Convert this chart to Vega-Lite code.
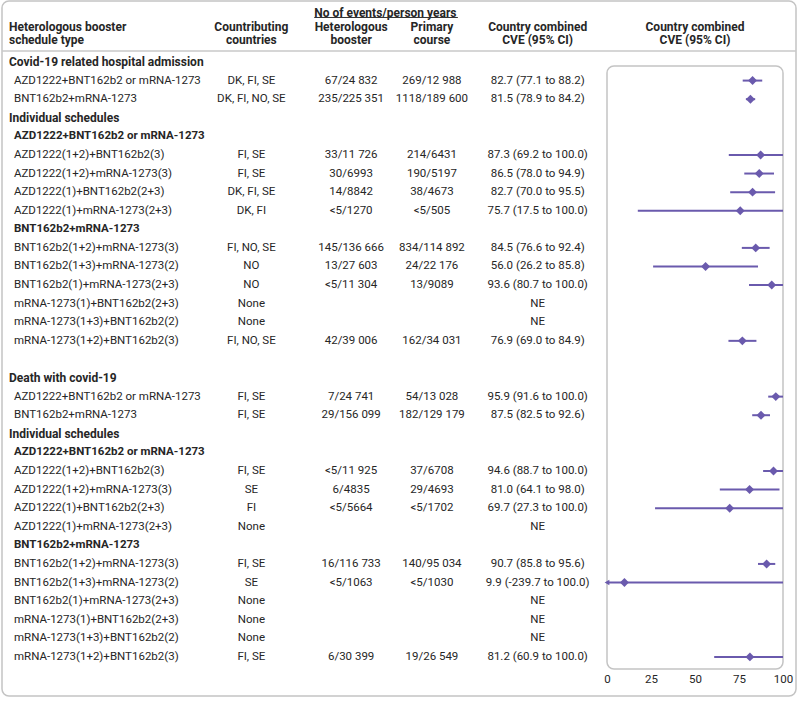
{
  "$schema": "https://vega.github.io/schema/vega-lite/v6.json",
  "width": 800,
  "height": 701,
  "autosize": {"type": "fit", "contains": "padding"},
  "padding": {"left": 1, "top": 1, "right": 3, "bottom": 5},
  "config": {
    "view": {"stroke": "#c4c4c4", "strokeWidth": 1.5, "cornerRadius": 7},
    "font": "Roboto",
    "text": {"font": "Roboto", "fontSize": 11.5, "color": "#262626", "baseline": "middle"}
  },
  "datasets": {
    "rows": [
      {"row": 0, "type": "section", "label": "Covid-19 related hospital admission", "countries": "", "booster": "", "primary": "", "cve": "", "est": null, "lo": null, "hi": null},
      {"row": 1, "type": "item", "label": "AZD1222+BNT162b2 or mRNA-1273", "countries": "DK, FI, SE", "booster": "67/24 832", "primary": "269/12 988", "cve": "82.7 (77.1 to 88.2)", "est": 82.7, "lo": 77.1, "hi": 88.2},
      {"row": 2, "type": "item", "label": "BNT162b2+mRNA-1273", "countries": "DK, FI, NO, SE", "booster": "235/225 351", "primary": "1118/189 600", "cve": "81.5 (78.9 to 84.2)", "est": 81.5, "lo": 78.9, "hi": 84.2},
      {"row": 3, "type": "sub", "label": "Individual schedules", "countries": "", "booster": "", "primary": "", "cve": "", "est": null, "lo": null, "hi": null},
      {"row": 4, "type": "group", "label": "AZD1222+BNT162b2 or mRNA-1273", "countries": "", "booster": "", "primary": "", "cve": "", "est": null, "lo": null, "hi": null},
      {"row": 5, "type": "item", "label": "AZD1222(1+2)+BNT162b2(3)", "countries": "FI, SE", "booster": "33/11 726", "primary": "214/6431", "cve": "87.3 (69.2 to 100.0)", "est": 87.3, "lo": 69.2, "hi": 100.0},
      {"row": 6, "type": "item", "label": "AZD1222(1+2)+mRNA-1273(3)", "countries": "FI, SE", "booster": "30/6993", "primary": "190/5197", "cve": "86.5 (78.0 to 94.9)", "est": 86.5, "lo": 78.0, "hi": 94.9},
      {"row": 7, "type": "item", "label": "AZD1222(1)+BNT162b2(2+3)", "countries": "DK, FI, SE", "booster": "14/8842", "primary": "38/4673", "cve": "82.7 (70.0 to 95.5)", "est": 82.7, "lo": 70.0, "hi": 95.5},
      {"row": 8, "type": "item", "label": "AZD1222(1)+mRNA-1273(2+3)", "countries": "DK, FI", "booster": "<5/1270", "primary": "<5/505", "cve": "75.7 (17.5 to 100.0)", "est": 75.7, "lo": 17.5, "hi": 100.0},
      {"row": 9, "type": "group", "label": "BNT162b2+mRNA-1273", "countries": "", "booster": "", "primary": "", "cve": "", "est": null, "lo": null, "hi": null},
      {"row": 10, "type": "item", "label": "BNT162b2(1+2)+mRNA-1273(3)", "countries": "FI, NO, SE", "booster": "145/136 666", "primary": "834/114 892", "cve": "84.5 (76.6 to 92.4)", "est": 84.5, "lo": 76.6, "hi": 92.4},
      {"row": 11, "type": "item", "label": "BNT162b2(1+3)+mRNA-1273(2)", "countries": "NO", "booster": "13/27 603", "primary": "24/22 176", "cve": "56.0 (26.2 to 85.8)", "est": 56.0, "lo": 26.2, "hi": 85.8},
      {"row": 12, "type": "item", "label": "BNT162b2(1)+mRNA-1273(2+3)", "countries": "NO", "booster": "<5/11 304", "primary": "13/9089", "cve": "93.6 (80.7 to 100.0)", "est": 93.6, "lo": 80.7, "hi": 100.0},
      {"row": 13, "type": "item", "label": "mRNA-1273(1)+BNT162b2(2+3)", "countries": "None", "booster": "", "primary": "", "cve": "NE", "est": null, "lo": null, "hi": null},
      {"row": 14, "type": "item", "label": "mRNA-1273(1+3)+BNT162b2(2)", "countries": "None", "booster": "", "primary": "", "cve": "NE", "est": null, "lo": null, "hi": null},
      {"row": 15, "type": "item", "label": "mRNA-1273(1+2)+BNT162b2(3)", "countries": "FI, NO, SE", "booster": "42/39 006", "primary": "162/34 031", "cve": "76.9 (69.0 to 84.9)", "est": 76.9, "lo": 69.0, "hi": 84.9},
      {"row": 17, "type": "section", "label": "Death with covid-19", "countries": "", "booster": "", "primary": "", "cve": "", "est": null, "lo": null, "hi": null},
      {"row": 18, "type": "item", "label": "AZD1222+BNT162b2 or mRNA-1273", "countries": "FI, SE", "booster": "7/24 741", "primary": "54/13 028", "cve": "95.9 (91.6 to 100.0)", "est": 95.9, "lo": 91.6, "hi": 100.0},
      {"row": 19, "type": "item", "label": "BNT162b2+mRNA-1273", "countries": "FI, SE", "booster": "29/156 099", "primary": "182/129 179", "cve": "87.5 (82.5 to 92.6)", "est": 87.5, "lo": 82.5, "hi": 92.6},
      {"row": 20, "type": "sub", "label": "Individual schedules", "countries": "", "booster": "", "primary": "", "cve": "", "est": null, "lo": null, "hi": null},
      {"row": 21, "type": "group", "label": "AZD1222+BNT162b2 or mRNA-1273", "countries": "", "booster": "", "primary": "", "cve": "", "est": null, "lo": null, "hi": null},
      {"row": 22, "type": "item", "label": "AZD1222(1+2)+BNT162b2(3)", "countries": "FI, SE", "booster": "<5/11 925", "primary": "37/6708", "cve": "94.6 (88.7 to 100.0)", "est": 94.6, "lo": 88.7, "hi": 100.0},
      {"row": 23, "type": "item", "label": "AZD1222(1+2)+mRNA-1273(3)", "countries": "SE", "booster": "6/4835", "primary": "29/4693", "cve": "81.0 (64.1 to 98.0)", "est": 81.0, "lo": 64.1, "hi": 98.0},
      {"row": 24, "type": "item", "label": "AZD1222(1)+BNT162b2(2+3)", "countries": "FI", "booster": "<5/5664", "primary": "<5/1702", "cve": "69.7 (27.3 to 100.0)", "est": 69.7, "lo": 27.3, "hi": 100.0},
      {"row": 25, "type": "item", "label": "AZD1222(1)+mRNA-1273(2+3)", "countries": "None", "booster": "", "primary": "", "cve": "NE", "est": null, "lo": null, "hi": null},
      {"row": 26, "type": "group", "label": "BNT162b2+mRNA-1273", "countries": "", "booster": "", "primary": "", "cve": "", "est": null, "lo": null, "hi": null},
      {"row": 27, "type": "item", "label": "BNT162b2(1+2)+mRNA-1273(3)", "countries": "FI, SE", "booster": "16/116 733", "primary": "140/95 034", "cve": "90.7 (85.8 to 95.6)", "est": 90.7, "lo": 85.8, "hi": 95.6},
      {"row": 28, "type": "item", "label": "BNT162b2(1+3)+mRNA-1273(2)", "countries": "SE", "booster": "<5/1063", "primary": "<5/1030", "cve": "9.9 (-239.7 to 100.0)", "est": 9.9, "lo": -239.7, "hi": 100.0},
      {"row": 29, "type": "item", "label": "BNT162b2(1)+mRNA-1273(2+3)", "countries": "None", "booster": "", "primary": "", "cve": "NE", "est": null, "lo": null, "hi": null},
      {"row": 30, "type": "item", "label": "mRNA-1273(1)+BNT162b2(2+3)", "countries": "None", "booster": "", "primary": "", "cve": "NE", "est": null, "lo": null, "hi": null},
      {"row": 31, "type": "item", "label": "mRNA-1273(1+3)+BNT162b2(2)", "countries": "None", "booster": "", "primary": "", "cve": "NE", "est": null, "lo": null, "hi": null},
      {"row": 32, "type": "item", "label": "mRNA-1273(1+2)+BNT162b2(3)", "countries": "FI, SE", "booster": "6/30 399", "primary": "19/26 549", "cve": "81.2 (60.9 to 100.0)", "est": 81.2, "lo": 60.9, "hi": 100.0}
    ]
  },
  "layer": [
    {
      "layer": [
        {
          "data": {"name": "rows"},
          "transform": [{"filter": "datum.type == 'section' || datum.type == 'sub'"}],
          "mark": {"type": "text", "align": "left", "fontWeight": "bold", "fontSize": 12},
          "encoding": {
            "x": {"datum": 7, "type": "quantitative", "scale": {"type": "linear", "domain": [0, 796], "nice": false, "zero": false}, "axis": null},
            "y": {"field": "row", "type": "quantitative", "scale": {"domain": [-3.281, 34.104], "reverse": true, "nice": false, "zero": false}, "axis": null},
            "text": {"field": "label"}
          }
        },
        {
          "data": {"name": "rows"},
          "transform": [{"filter": "datum.type == 'group'"}],
          "mark": {"type": "text", "align": "left", "fontWeight": "bold"},
          "encoding": {
            "x": {"datum": 12, "type": "quantitative", "axis": null},
            "y": {"field": "row", "type": "quantitative", "axis": null},
            "text": {"field": "label"}
          }
        },
        {
          "data": {"name": "rows"},
          "transform": [{"filter": "datum.type == 'item'"}],
          "mark": {"type": "text", "align": "left"},
          "encoding": {
            "x": {"datum": 12, "type": "quantitative", "axis": null},
            "y": {"field": "row", "type": "quantitative", "axis": null},
            "text": {"field": "label"}
          }
        },
        {
          "data": {"name": "rows"},
          "mark": {"type": "text", "align": "center"},
          "encoding": {
            "x": {"datum": 250, "type": "quantitative", "axis": null},
            "y": {"field": "row", "type": "quantitative", "axis": null},
            "text": {"field": "countries"}
          }
        },
        {
          "data": {"name": "rows"},
          "mark": {"type": "text", "align": "center"},
          "encoding": {
            "x": {"datum": 350, "type": "quantitative", "axis": null},
            "y": {"field": "row", "type": "quantitative", "axis": null},
            "text": {"field": "booster"}
          }
        },
        {
          "data": {"name": "rows"},
          "mark": {"type": "text", "align": "center"},
          "encoding": {
            "x": {"datum": 431, "type": "quantitative", "axis": null},
            "y": {"field": "row", "type": "quantitative", "axis": null},
            "text": {"field": "primary"}
          }
        },
        {
          "data": {"name": "rows"},
          "mark": {"type": "text", "align": "center"},
          "encoding": {
            "x": {"datum": 537, "type": "quantitative", "axis": null},
            "y": {"field": "row", "type": "quantitative", "axis": null},
            "text": {"field": "cve"}
          }
        },
        {
          "data": {"values": [{}]},
          "mark": {"type": "text", "align": "left", "fontWeight": "bold", "fontSize": 12, "lineBreak": "\n", "lineHeight": 13},
          "encoding": {
            "x": {"datum": 7, "type": "quantitative", "axis": null},
            "y": {"datum": -1.88, "type": "quantitative", "axis": null},
            "text": {"value": "Heterologous booster\nschedule type"}
          }
        },
        {
          "data": {"values": [{}]},
          "mark": {"type": "text", "align": "center", "fontWeight": "bold", "fontSize": 12, "lineBreak": "\n", "lineHeight": 13},
          "encoding": {
            "x": {"datum": 250, "type": "quantitative", "axis": null},
            "y": {"datum": -1.88, "type": "quantitative", "axis": null},
            "text": {"value": "Countributing\ncountries"}
          }
        },
        {
          "data": {"values": [{}]},
          "mark": {"type": "text", "align": "center", "fontWeight": "bold", "fontSize": 12, "lineBreak": "\n", "lineHeight": 13},
          "encoding": {
            "x": {"datum": 350, "type": "quantitative", "axis": null},
            "y": {"datum": -1.88, "type": "quantitative", "axis": null},
            "text": {"value": "Heterologous\nbooster"}
          }
        },
        {
          "data": {"values": [{}]},
          "mark": {"type": "text", "align": "center", "fontWeight": "bold", "fontSize": 12, "lineBreak": "\n", "lineHeight": 13},
          "encoding": {
            "x": {"datum": 431, "type": "quantitative", "axis": null},
            "y": {"datum": -1.88, "type": "quantitative", "axis": null},
            "text": {"value": "Primary\ncourse"}
          }
        },
        {
          "data": {"values": [{}]},
          "mark": {"type": "text", "align": "center", "fontWeight": "bold", "fontSize": 12, "lineBreak": "\n", "lineHeight": 13},
          "encoding": {
            "x": {"datum": 537, "type": "quantitative", "axis": null},
            "y": {"datum": -1.88, "type": "quantitative", "axis": null},
            "text": {"value": "Country combined\nCVE (95% CI)"}
          }
        },
        {
          "data": {"values": [{}]},
          "mark": {"type": "text", "align": "left", "fontWeight": "bold", "fontSize": 12},
          "encoding": {
            "x": {"datum": 313, "type": "quantitative", "axis": null},
            "y": {"datum": -2.64, "type": "quantitative", "axis": null},
            "text": {"value": "No of events/person years"}
          }
        },
        {
          "data": {"values": [{}]},
          "mark": {"type": "rule", "color": "#333333", "strokeWidth": 1},
          "encoding": {
            "x": {"datum": 313, "type": "quantitative", "axis": null},
            "x2": {"datum": 457},
            "y": {"datum": -2.394, "type": "quantitative", "axis": null}
          }
        },
        {
          "data": {"values": [{}]},
          "mark": {"type": "rule", "color": "#c8c8c8", "strokeWidth": 1.5},
          "encoding": {
            "x": {"datum": 0, "type": "quantitative", "axis": null},
            "x2": {"datum": 796},
            "y": {"datum": -0.592, "type": "quantitative", "axis": null}
          }
        }
      ]
    },
    {
      "layer": [
        {
          "data": {"values": [{}]},
          "mark": {"type": "rect", "fill": null, "stroke": "#c4c4c4", "strokeWidth": 1.5, "cornerRadius": 7},
          "encoding": {
            "x": {"datum": 0, "type": "quantitative", "scale": {"type": "linear", "domain": [0, 100], "range": [605, 781], "clamp": true, "nice": false, "zero": false},
              "axis": {"orient": "bottom", "offset": -27, "values": [0, 25, 50, 75, 100], "domain": false, "ticks": false, "grid": false, "labelFlush": false, "labelOverlap": false, "labelFont": "Roboto", "labelFontSize": 11.5, "labelColor": "#262626", "labelPadding": 4, "title": null}},
            "x2": {"datum": 100},
            "y": {"datum": 0.215, "type": "quantitative", "axis": null},
            "y2": {"datum": 32.65}
          }
        },
        {
          "data": {"values": [{}]},
          "mark": {"type": "text", "align": "center", "fontWeight": "bold", "fontSize": 12, "lineBreak": "\n", "lineHeight": 13},
          "encoding": {
            "x": {"datum": 50, "type": "quantitative"},
            "y": {"datum": -1.88, "type": "quantitative", "axis": null},
            "text": {"value": "Country combined\nCVE (95% CI)"}
          }
        },
        {
          "data": {"name": "rows"},
          "transform": [{"filter": "isValid(datum.est)"}],
          "mark": {"type": "rule", "color": "#6a5aad", "strokeWidth": 2},
          "encoding": {
            "x": {"field": "lo", "type": "quantitative"},
            "x2": {"field": "hi"},
            "y": {"field": "row", "type": "quantitative", "axis": null}
          }
        },
        {
          "data": {"name": "rows"},
          "transform": [{"filter": "isValid(datum.lo) && datum.lo < 0"}],
          "mark": {"type": "point", "shape": "triangle-left", "filled": true, "color": "#6a5aad", "size": 30, "opacity": 1},
          "encoding": {
            "x": {"field": "lo", "type": "quantitative"},
            "y": {"field": "row", "type": "quantitative", "axis": null}
          }
        },
        {
          "data": {"name": "rows"},
          "transform": [{"filter": "isValid(datum.est)"}],
          "mark": {"type": "point", "shape": "diamond", "filled": true, "color": "#6a5aad", "size": 80, "opacity": 1},
          "encoding": {
            "x": {"field": "est", "type": "quantitative"},
            "y": {"field": "row", "type": "quantitative", "axis": null}
          }
        }
      ]
    }
  ],
  "resolve": {"scale": {"x": "independent"}, "axis": {"x": "independent"}}
}
